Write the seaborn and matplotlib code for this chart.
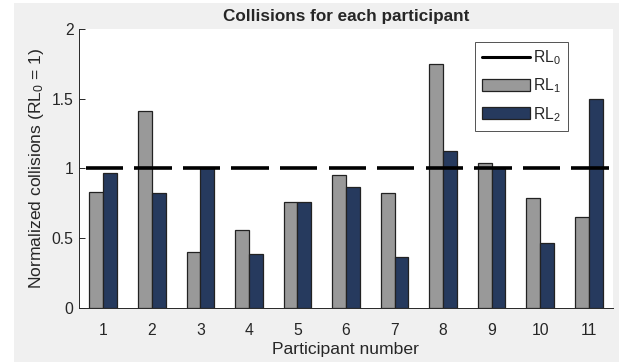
import matplotlib
matplotlib.use("Agg")
import matplotlib.pyplot as plt
from matplotlib.lines import Line2D
from matplotlib.patches import Patch, Rectangle
import seaborn as sns
import pandas as pd
import numpy as np

participants = ["1", "2", "3", "4", "5", "6", "7", "8", "9", "10", "11"]
rl1 = [0.83, 1.41, 0.40, 0.555, 0.76, 0.955, 0.82, 1.75, 1.035, 0.785, 0.65]
rl2 = [0.965, 0.825, 1.0, 0.385, 0.76, 0.865, 0.365, 1.125, 1.0, 0.465, 1.50]
baseline = 1.0
series_labels = ["RL$_0$", "RL$_1$", "RL$_2$"]
colors = {"RL1": "#999999", "RL2": "#263a5e"}

df = pd.DataFrame({
    "participant": participants * 2,
    "value": rl1 + rl2,
    "series": ["RL1"] * len(rl1) + ["RL2"] * len(rl2),
})

sns.set_style("ticks")
plt.rcParams["font.family"] = ["Liberation Sans", "DejaVu Sans"]
plt.rcParams["mathtext.fontset"] = "custom"
plt.rcParams["mathtext.rm"] = "Liberation Sans"
plt.rcParams["mathtext.it"] = "Liberation Sans"

fig = plt.figure(figsize=(6.24, 3.63), dpi=100, facecolor="white")
fig.patches.append(Rectangle((14 / 624, 1 - 362 / 363), (619 - 14) / 624, (362 - 3) / 363,
                             transform=fig.transFigure, facecolor="#f0f0f0",
                             edgecolor="none", zorder=-10))
ax = fig.add_axes([79 / 624, 1 - 307.7 / 363, (613 - 79) / 624, (307.7 - 29) / 363])

sns.barplot(data=df, x="participant", y="value", hue="series", order=participants,
            hue_order=["RL1", "RL2"], palette=colors, width=0.57, ax=ax,
            edgecolor="#222222", linewidth=0.9, saturation=1, legend=False, zorder=2)

pos = np.arange(len(participants))
ax.hlines([baseline] * len(pos), pos - 0.36, pos + 0.41, colors="black",
          linewidth=2.6, zorder=3)

ax.set_xlim(-0.5, len(participants) - 0.5)
ax.set_ylim(0, 2)
ax.set_yticks([0, 0.5, 1, 1.5, 2])
ax.set_yticklabels(["0", "0.5", "1", "1.5", "2"])
ax.tick_params(axis="y", direction="in", length=4, width=0.7, labelsize=11.3,
               colors="#262626", pad=4)
ax.tick_params(axis="x", length=0, labelsize=11.3, colors="#262626", pad=11)
for s in ["top", "right"]:
    ax.spines[s].set_visible(False)
for s in ["left", "bottom"]:
    ax.spines[s].set_color("#262626")
    ax.spines[s].set_linewidth(0.7)

ax.set_xlabel("Participant number", fontsize=12.6, color="#262626", labelpad=3)
ax.set_ylabel("Normalized collisions (RL$_0$ = 1)", fontsize=12.6, color="#262626", labelpad=4)
ax.set_title("Collisions for each participant", fontsize=12.3, fontweight="bold", pad=6)

handles = [Line2D([0], [0], color="black", linewidth=2.2),
           Patch(facecolor=colors["RL1"], edgecolor="#222222", linewidth=0.9),
           Patch(facecolor=colors["RL2"], edgecolor="#222222", linewidth=0.9)]
leg = ax.legend(handles, series_labels, loc="upper right", bbox_to_anchor=(0.915, 0.955),
                fancybox=False, frameon=True, edgecolor="#262626", fontsize=11.3,
                handlelength=3.1, handleheight=0.8, handletextpad=0.15,
                borderpad=0.45, labelspacing=0.6, borderaxespad=0)
leg.get_frame().set_linewidth(0.7)

fig.savefig("out.png", dpi=100)
